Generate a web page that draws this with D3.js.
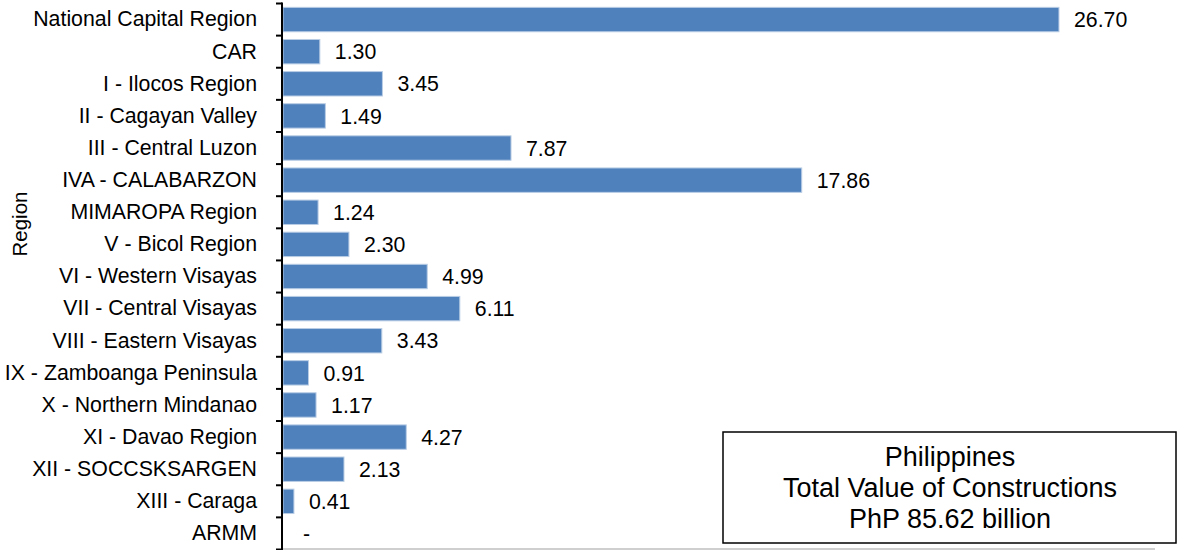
<!DOCTYPE html>
<html>
<head>
<meta charset="utf-8">
<script src="https://cdn.jsdelivr.net/npm/d3@7/dist/d3.min.js"></script>
<style>
  body { margin: 0; background: #fff; }
  text { font-family: Arial, "Liberation Sans", sans-serif; fill: #000; }
</style>
</head>
<body>
<div id="container"></div>
<script>
var width = 1177,
    height = 550;

// regions, top to bottom
var regions = [
  "National Capital Region", "CAR", "I - Ilocos Region", "II - Cagayan Valley",
  "III - Central Luzon", "IVA - CALABARZON", "MIMAROPA Region", "V - Bicol Region",
  "VI - Western Visayas", "VII - Central Visayas", "VIII - Eastern Visayas",
  "IX - Zamboanga Peninsula", "X - Northern Mindanao", "XI - Davao Region",
  "XII - SOCCSKSARGEN", "XIII - Caraga", "ARMM"
];
// value of constructions, billion PhP
var values = [26.70, 1.30, 3.45, 1.49, 7.87, 17.86, 1.24, 2.30, 4.99, 6.11, 3.43, 0.91, 1.17, 4.27, 2.13, 0.41, 0];
var valueLabels = ["26.70", "1.30", "3.45", "1.49", "7.87", "17.86", "1.24", "2.30", "4.99", "6.11", "3.43", "0.91", "1.17", "4.27", "2.13", "0.41", "-"];
var boxLines = ["Philippines", "Total Value of Constructions", "PhP 85.62 billion"];

var data = regions.map(function(r, i) { return { region: r, value: values[i], label: valueLabels[i] }; });

var svg = d3.select("#container").append("svg")
    .attr("width", width)
    .attr("height", height);

var x = d3.scaleLinear().domain([0, 30]).range([282, 1155]);
var y = d3.scaleBand().domain(regions).range([3.5, 549.5]).paddingInner(0.24).paddingOuter(0.12);

// bottom value axis line (grey, no labels)
svg.append("line")
    .attr("x1", x(0)).attr("x2", x(30))
    .attr("y1", 549).attr("y2", 549)
    .attr("stroke", "#bfbfbf")
    .attr("stroke-width", 1.5);

// bars
svg.append("g").selectAll("rect")
    .data(data).enter()
    .append("rect")
    .attr("x", x(0) + 1)
    .attr("y", function(d) { return y(d.region); })
    .attr("width", function(d) { return Math.max(0, x(d.value) - x(0) - 1); })
    .attr("height", y.bandwidth())
    .attr("fill", "#4f81bd")
    .attr("stroke", "#b9cde5")
    .attr("stroke-width", 1);

// value labels ("-" for empty value sits a bit further out)
svg.append("g").selectAll("text")
    .data(data).enter()
    .append("text")
    .attr("x", function(d) { return x(d.value) + (d.value > 0 ? 15 : 21); })
    .attr("y", function(d) { return y(d.region) + y.bandwidth() / 2; })
    .attr("dy", "0.36em")
    .attr("font-size", "21.3px")
    .text(function(d) { return d.label; });

// category axis
var yAxis = d3.axisLeft(y).tickSize(0).tickPadding(25);
var ag = svg.append("g")
    .attr("transform", "translate(" + x(0) + ",0)")
    .call(yAxis);
ag.select(".domain").remove();
ag.selectAll(".tick text")
    .attr("font-size", "21.3px")
    .attr("font-family", "Arial, 'Liberation Sans', sans-serif")
    .attr("fill", "#000");

// ticks between categories
var boundaries = d3.range(regions.length + 1).map(function(i) { return y.range()[0] + i * y.step(); });
svg.append("g").selectAll("line")
    .data(boundaries).enter()
    .append("line")
    .attr("x1", x(0) - 6).attr("x2", x(0))
    .attr("y1", function(d) { return d; })
    .attr("y2", function(d) { return d; })
    .attr("stroke", "#000")
    .attr("stroke-width", 2);

svg.append("line")
    .attr("x1", x(0)).attr("x2", x(0))
    .attr("y1", y.range()[0] - 1).attr("y2", height)
    .attr("stroke", "#000")
    .attr("stroke-width", 2);

// axis title
svg.append("text")
    .attr("transform", "translate(27,224) rotate(-90)")
    .attr("text-anchor", "middle")
    .attr("font-size", "20.5px")
    .text("Region");

// total box
svg.append("rect")
    .attr("x", 723).attr("y", 432)
    .attr("width", 453).attr("height", 111)
    .attr("fill", "#fff")
    .attr("stroke", "#000")
    .attr("stroke-width", 1.5);

svg.append("g").selectAll("text")
    .data(boxLines).enter()
    .append("text")
    .attr("x", 950)
    .attr("y", function(d, i) { return 466 + i * 31; })
    .attr("text-anchor", "middle")
    .attr("font-size", "27px")
    .text(function(d) { return d; });
</script>
</body>
</html>
